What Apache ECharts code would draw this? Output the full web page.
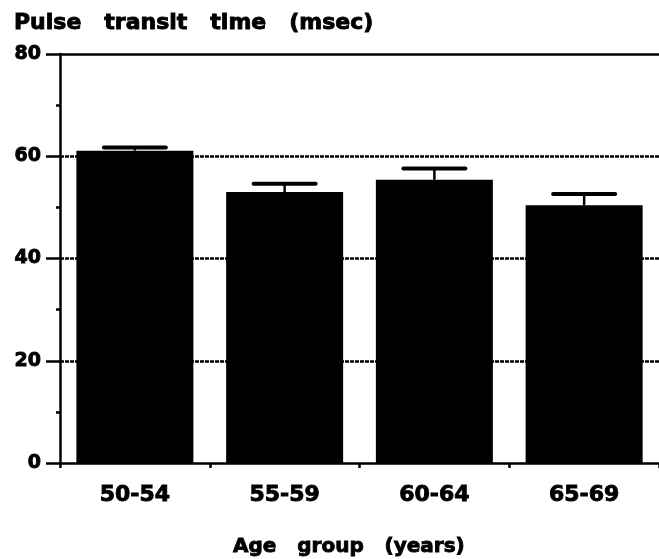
<!DOCTYPE html>
<html>
<head>
<meta charset="utf-8">
<script src="https://cdn.jsdelivr.net/npm/echarts@6/dist/echarts.min.js"></script>
<style>
  html, body { margin: 0; padding: 0; background: #fff; }
  #chart { width: 659px; height: 559px; }
</style>
</head>
<body>
<div id="chart"></div>
<script>
// Age groups along the x axis
const categories = ['50-54', '55-59', '60-64', '65-69'];
// Mean pulse transit time per group (msec)
const meanPTT = [61.1, 53.0, 55.4, 50.4];
// Upper error bar length (msec)
const errPTT = [0.6, 1.6, 2.2, 2.2];
// Y axis range and tick step
const yMin = 0, yMax = 80, yStep = 20;

const FONT = 'DejaVu Sans';
const INK = '#000';
// heavy lettering: bold face plus a thin outline in the same ink
const heavy = { fontFamily: FONT, fontWeight: 'bold', color: INK, textBorderColor: INK, textBorderWidth: 0.9 };

const chart = echarts.init(document.getElementById('chart'), null, { renderer: 'canvas' });

// One-sided (upward) error bar: stem from the bar top plus a rounded cap
function errorBar(params, api) {
  const x = api.value(0);
  const y = api.value(1);
  const e = api.value(2);
  const base = api.coord([x, y]);
  const top = api.coord([x, y + e]);
  const half = 31;
  return {
    type: 'group',
    children: [
      { type: 'line', shape: { x1: base[0], y1: base[1], x2: top[0], y2: top[1] },
        style: { stroke: INK, lineWidth: 2.5 } },
      { type: 'line', shape: { x1: top[0] - half, y1: top[1], x2: top[0] + half, y2: top[1] },
        style: { stroke: INK, lineWidth: 4, lineCap: 'round' } }
    ]
  };
}

chart.setOption({
  animation: false,
  backgroundColor: '#fff',
  title: [
    { text: 'Pulse   transit   time   (msec)', left: 9, top: 7,
      textStyle: Object.assign({ fontSize: 22 }, heavy) },
    { text: 'Age   group   (years)', left: 228, top: 532,
      textStyle: Object.assign({ fontSize: 20 }, heavy) }
  ],
  grid: { left: 60, top: 54, bottom: 96, width: 606, containLabel: false },
  xAxis: [
    {
      type: 'category',
      data: categories,
      axisLine: { lineStyle: { color: INK, width: 2.5 } },
      axisTick: { show: true, length: 5, lineStyle: { color: INK, width: 2.5 } },
      axisLabel: Object.assign({ margin: 21, fontSize: 22 }, heavy),
      splitLine: { show: false }
    },
    {
      // plain frame line along the top of the plot
      type: 'category',
      data: categories,
      position: 'top',
      axisLine: { show: true, lineStyle: { color: INK, width: 2.5 } },
      axisTick: { show: false },
      axisLabel: { show: false },
      splitLine: { show: false }
    }
  ],
  yAxis: {
    type: 'value',
    min: yMin, max: yMax, interval: yStep,
    axisLine: { show: true, lineStyle: { color: INK, width: 2.5 } },
    axisTick: { show: true, length: 14, lineStyle: { color: INK, width: 2.5 } },
    minorTick: { show: true, splitNumber: 2, length: 4, lineStyle: { color: INK, width: 2.5 } },
    axisLabel: Object.assign({ margin: 19, fontSize: 19 }, heavy),
    splitLine: { show: true, showMinLine: false, showMaxLine: false,
                 lineStyle: { color: INK, width: 2.5, type: [4, 1] } }
  },
  series: [
    {
      type: 'bar',
      data: meanPTT,
      barWidth: 117,
      itemStyle: { color: INK },
      z: 2
    },
    {
      type: 'custom',
      renderItem: errorBar,
      data: categories.map((c, i) => [i, meanPTT[i], errPTT[i]]),
      z: 3
    }
  ]
});
</script>
</body>
</html>
